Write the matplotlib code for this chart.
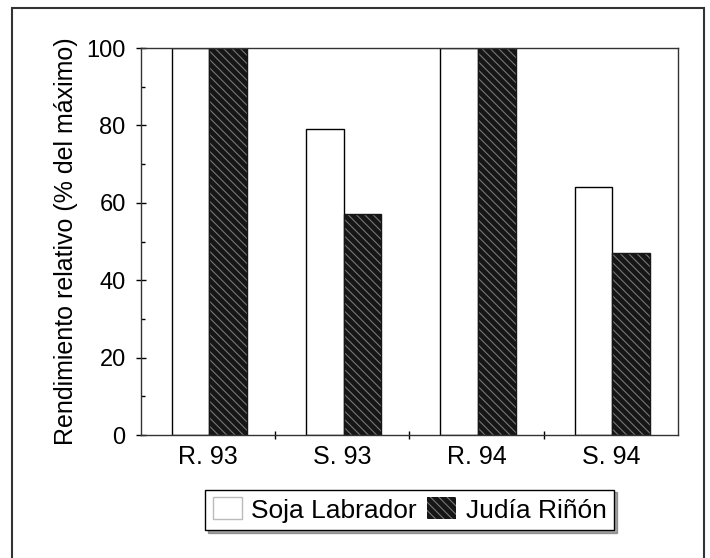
import matplotlib
matplotlib.use('Agg')
import matplotlib.pyplot as plt
import matplotlib.patches as mpatches
import numpy as np

plt.rcParams['font.family'] = ['Liberation Sans', 'DejaVu Sans']
plt.rcParams['hatch.linewidth'] = 0.8

categories = ['R. 93', 'S. 93', 'R. 94', 'S. 94']
soja = [100, 79, 100, 64]
judia = [100, 57, 100, 47]
series_names = ['Soja Labrador', 'Judía Riñón']

fig = plt.figure(figsize=(7.1, 5.58), dpi=100)
ax = fig.add_axes([0.1986, 0.2204, 0.7563, 0.6935])

x = np.arange(len(categories))
w = 0.28
ax.bar(x - w / 2 + 0.01, soja, w, color='white', edgecolor='black', linewidth=1.0)
ax.bar(x + w / 2 + 0.01, judia, w, color='#161616', edgecolor='#777777',
       hatch='\\\\\\\\', linewidth=0)
ax.bar(x + w / 2 + 0.01, judia, w, color='none', edgecolor='#161616', linewidth=1.0)

ax.set_xlim(-0.5, 3.5)
ax.set_ylim(0, 100)
ax.set_yticks([0, 20, 40, 60, 80, 100])
ax.set_yticks(np.arange(10, 100, 20), minor=True)
ax.set_xticks(x)
ax.set_xticklabels(categories)
ax.set_xticks([0.5, 1.5, 2.5], minor=True)
ax.tick_params(axis='y', which='major', direction='inout', length=7, width=1, labelsize=17, pad=7.5)
ax.tick_params(axis='y', which='minor', direction='in', length=3, width=1)
ax.tick_params(axis='x', which='major', length=0, labelsize=18, pad=7)
ax.tick_params(axis='x', which='minor', direction='inout', length=6, width=1)
for s in ax.spines.values():
    s.set_linewidth(1.0)
    s.set_color('#333333')

ax.set_ylabel('Rendimiento relativo (% del máximo)', fontsize=18)
ax.yaxis.set_label_coords(-0.117, 0.5)

h1 = mpatches.Patch(facecolor='white', edgecolor='#bbbbbb', linewidth=1)
h2 = mpatches.Patch(facecolor='#161616', edgecolor='#777777', hatch='\\\\\\\\', linewidth=0)
leg = fig.legend([h1, h2], series_names, loc='center', bbox_to_anchor=(0.577, 0.086),
                 ncol=2, fontsize=19, frameon=True, fancybox=False, shadow=True,
                 handlelength=1.1, handleheight=0.9, handletextpad=0.35,
                 columnspacing=0.4, borderpad=0.3, borderaxespad=0)
leg.get_frame().set_edgecolor('black')
leg.get_frame().set_linewidth(1.0)

fig.patches.append(mpatches.Rectangle((12 / 710, -0.05), (704 - 12) / 710, 1.05 - 8 / 558,
                                      transform=fig.transFigure, fill=False,
                                      edgecolor='#333333', linewidth=1.5))

fig.savefig('out.png', dpi=100)
